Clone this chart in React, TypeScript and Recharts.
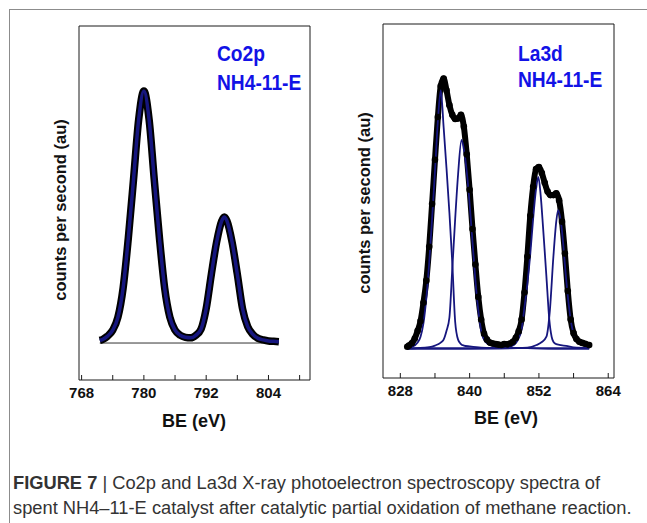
import { LineChart, Line, XAxis, YAxis } from 'recharts'

// Co2p spectrum (left panel), BE in eV, counts in arbitrary units
const coBE = [771.5, 772, 773, 774, 775, 776, 777, 778, 779, 780, 781, 782, 783, 784, 785, 786, 787, 788, 789, 790, 791, 792, 793, 794, 795, 795.5, 796, 797, 798, 799, 800, 801, 802, 803, 804, 805, 806]
const coCounts = [0.015, 0.02, 0.04, 0.075, 0.15, 0.32, 0.61, 0.95, 1.3, 1.465, 1.3, 0.95, 0.61, 0.32, 0.15, 0.075, 0.045, 0.033, 0.03, 0.045, 0.08, 0.2, 0.4, 0.585, 0.71, 0.733, 0.71, 0.585, 0.4, 0.2, 0.095, 0.05, 0.027, 0.018, 0.012, 0.01, 0.008]
const coBaseBE = [771.5, 806]
const coBase = [0, 0]
const coTicks = [768, 774, 780, 786, 792, 798, 804, 810]
const coLabels = [768, 780, 792, 804]

// La3d spectrum (right panel): measured envelope + 4 fitted components
const laBE = [829.2, 829.5, 830, 830.5, 831, 831.5, 832, 832.5, 833, 833.5, 834, 834.5, 835, 835.5, 836, 836.5, 837, 837.5, 838, 838.5, 839, 839.5, 840, 840.5, 841, 841.5, 842, 842.5, 843, 843.5, 844, 844.5, 845, 845.5, 846, 846.5, 847, 847.5, 848, 848.5, 849, 849.5, 850, 850.5, 851, 851.5, 852, 852.5, 853, 853.5, 854, 854.5, 855, 855.5, 856, 856.5, 857, 857.5, 858, 858.5, 859, 859.5, 860, 860.7]
const laCounts = [1.06, 1.1, 1.18, 1.34, 1.6, 1.93, 2.55, 3.3, 4.45, 5.9, 7.4, 8.85, 9.9, 10.15, 9.75, 9.25, 8.92, 8.78, 8.8, 8.92, 8.52, 7.58, 6.38, 5.05, 3.85, 2.75, 1.98, 1.5, 1.3, 1.2, 1.17, 1.15, 1.13, 1.12, 1.15, 1.14, 1.17, 1.23, 1.36, 1.58, 1.98, 2.9, 4.12, 5.5, 6.48, 7.08, 7.15, 6.95, 6.62, 6.32, 6.2, 6.2, 6.26, 6.02, 5.3, 4.22, 2.95, 1.98, 1.52, 1.32, 1.23, 1.19, 1.16, 1.12]

const fit1BE = [829.2, 830, 831, 831.5, 832, 832.5, 833, 833.5, 834, 834.5, 835, 835.5, 836, 836.5, 837, 837.5, 838, 838.5, 839, 840, 842, 845, 850, 855, 860.7]
const fit1 = [1.02, 1.05, 1.2, 1.4, 1.85, 2.7, 3.9, 5.4, 7.0, 8.7, 9.76, 8.5, 7.1, 5.6, 3.9, 1.9, 1.3, 1.15, 1.1, 1.07, 1.03, 1.02, 1.01, 1.0, 1.0]

const fit2BE = [829.2, 833, 834, 835, 835.5, 836, 836.5, 837, 837.5, 838, 838.6, 839, 839.5, 840, 840.5, 841, 841.5, 842, 842.5, 843, 844, 846, 850, 855, 860.7]
const fit2 = [1.0, 1.05, 1.1, 1.2, 1.3, 1.6, 2.05, 3.7, 5.4, 6.9, 8.07, 7.75, 7.0, 5.9, 4.6, 3.3, 2.3, 1.6, 1.3, 1.18, 1.1, 1.04, 1.01, 1.0, 1.0]

const fit3BE = [829.2, 840, 845, 846, 847, 848, 848.5, 849, 849.5, 850, 850.5, 851, 851.5, 851.9, 852.3, 852.7, 853, 853.3, 853.8, 854.2, 854.5, 855, 857, 858, 860.7]
const fit3 = [1.0, 1.0, 1.01, 1.02, 1.06, 1.18, 1.35, 1.65, 2.4, 3.2, 4.2, 5.4, 6.4, 6.82, 6.2, 5.15, 4.3, 3.43, 1.97, 1.4, 1.23, 1.15, 1.08, 1.04, 1.02]

const fit4BE = [829.2, 845, 850, 851.6, 852.5, 853.3, 853.9, 854.5, 855, 855.33, 855.8, 856.2, 856.6, 857.1, 857.6, 858.2, 859, 860.2, 860.7]
const fit4 = [1.0, 1.0, 1.03, 1.12, 1.22, 1.4, 2.3, 4.1, 5.3, 5.69, 5.3, 4.56, 3.6, 2.6, 1.85, 1.4, 1.22, 1.12, 1.1]

const laBaseBE = [829.2, 860.7]
const laBase = [1.0, 1.0]
const laTicks = [828, 834, 840, 846, 852, 858, 864]
const laLabels = [828, 840, 852, 864]
const laYTicks = [0, 1, 2, 3, 4, 5, 6, 7, 8, 9, 10, 11, 12]

const pts = (xs: number[], ys: number[]) => xs.map((be, i) => ({ be, cps: ys[i] }))

const FONT = '"Liberation Sans", Arial, Helvetica, sans-serif'
const NAVY = '#16167e'
const FRAME = '#1a1a1a'

const tickStyle = { fill: '#111', fontSize: 15, fontWeight: 700, fontFamily: FONT }

// axes drawn on all four sides so they make the plot frame (ticks point inward)
function axes(xDomain: [number, number], xTicks: number[], xLabels: number[], yDomain: [number, number], yTicks: number[]) {
  return [
    <XAxis
      key="xb"
      xAxisId="b"
      type="number"
      dataKey="be"
      domain={xDomain}
      ticks={xTicks}
      interval={0}
      allowDataOverflow
      height={1}
      tickSize={-5}
      tickMargin={12}
      stroke={FRAME}
      tick={tickStyle}
      tickFormatter={(v: number) => (xLabels.includes(v) ? String(v) : '')}
    />,
    <XAxis key="xt" xAxisId="t" orientation="top" type="number" dataKey="be" domain={xDomain} ticks={xTicks} interval={0} allowDataOverflow height={1} tickSize={-5} tick={false} stroke={FRAME} />,
    <YAxis key="yl" yAxisId="l" type="number" dataKey="cps" domain={yDomain} ticks={yTicks} interval={0} allowDataOverflow width={1} tickSize={-4} tick={false} stroke={FRAME} />,
    <YAxis key="yr" yAxisId="r" orientation="right" type="number" dataKey="cps" domain={yDomain} ticks={yTicks} interval={0} allowDataOverflow width={1} tickSize={-4} tick={false} stroke={FRAME} />,
  ]
}

const abs = (left: number, top: number) => ({ position: 'absolute' as const, left, top })

function Tag({ x, y, children }: { x: number; y: number; children: string }) {
  return (
    <div
      style={{
        ...abs(x, y),
        color: '#1212e6',
        fontSize: 20,
        fontWeight: 700,
        fontFamily: FONT,
        lineHeight: '20px',
        whiteSpace: 'nowrap',
        transform: 'scale(0.96, 1.1)',
        transformOrigin: 'left center',
      }}
    >
      {children}
    </div>
  )
}

function YTitle({ cx, cy }: { cx: number; cy: number }) {
  return (
    <div
      style={{
        ...abs(cx, cy),
        transform: 'translate(-50%, -50%) rotate(-90deg)',
        fontSize: 16.5,
        fontWeight: 700,
        fontFamily: FONT,
        color: '#111',
        whiteSpace: 'nowrap',
        lineHeight: '18px',
      }}
    >
      counts per second (au)
    </div>
  )
}

function XTitle({ cx, cy }: { cx: number; cy: number }) {
  return (
    <div style={{ ...abs(cx, cy), transform: 'translate(-50%, -50%)', fontSize: 18, fontWeight: 700, fontFamily: FONT, color: '#111', whiteSpace: 'nowrap', lineHeight: '20px' }}>
      BE (eV)
    </div>
  )
}

export default function App() {
  return (
    <div style={{ position: 'absolute', left: 0, top: 0, width: 647, height: 523, background: '#fff', overflow: 'hidden' }}>
      <div style={{ ...abs(9, 9), width: 700, height: 600, borderTop: '1px solid #8c8c8c', borderLeft: '1px solid #8c8c8c' }} />

      {/* left panel : Co2p */}
      <div style={abs(0, 0)}>
        <LineChart width={330} height={440} margin={{ top: 25, right: 19, bottom: 59, left: 78 }}>
          {axes([767.5, 812], coTicks, coLabels, [-0.215, 1.843], [0, 1])}
          <Line xAxisId="b" yAxisId="l" data={pts(coBaseBE, coBase)} dataKey="cps" stroke="#333" strokeWidth={1} dot={false} isAnimationActive={false} />
          <Line xAxisId="b" yAxisId="l" data={pts(coBE, coCounts)} dataKey="cps" type="monotone" stroke="#000" strokeWidth={7.5} dot={false} isAnimationActive={false} />
          <Line xAxisId="b" yAxisId="l" data={pts(coBE, coCounts)} dataKey="cps" type="monotone" stroke={NAVY} strokeWidth={3.5} dot={false} isAnimationActive={false} />
        </LineChart>
      </div>

      {/* right panel : La3d */}
      <div style={abs(330, 0)}>
        <LineChart width={317} height={440} margin={{ top: 23, right: 32, bottom: 61, left: 52 }}>
          {axes([825, 865], laTicks, laLabels, [0, 12], laYTicks)}
          <Line xAxisId="b" yAxisId="l" data={pts(laBaseBE, laBase)} dataKey="cps" stroke="#111" strokeWidth={1} dot={false} isAnimationActive={false} />
          <Line
            xAxisId="b"
            yAxisId="l"
            data={pts(laBE, laCounts)}
            dataKey="cps"
            type="monotone"
            stroke="#000"
            strokeWidth={6}
            dot={{ r: 3.3, fill: '#000', stroke: 'none' }}
            isAnimationActive={false}
          />
          <Line xAxisId="b" yAxisId="l" data={pts(fit1BE, fit1)} dataKey="cps" type="monotone" stroke={NAVY} strokeWidth={1.8} dot={false} isAnimationActive={false} />
          <Line xAxisId="b" yAxisId="l" data={pts(fit2BE, fit2)} dataKey="cps" type="monotone" stroke={NAVY} strokeWidth={1.8} dot={false} isAnimationActive={false} />
          <Line xAxisId="b" yAxisId="l" data={pts(fit3BE, fit3)} dataKey="cps" type="monotone" stroke={NAVY} strokeWidth={1.8} dot={false} isAnimationActive={false} />
          <Line xAxisId="b" yAxisId="l" data={pts(fit4BE, fit4)} dataKey="cps" type="monotone" stroke={NAVY} strokeWidth={1.8} dot={false} isAnimationActive={false} />
        </LineChart>
      </div>

      <Tag x={217} y={43}>Co2p</Tag>
      <Tag x={217} y={72}>NH4-11-E</Tag>
      <Tag x={518} y={43}>La3d</Tag>
      <Tag x={518} y={69}>NH4-11-E</Tag>

      <YTitle cx={60} cy={210} />
      <YTitle cx={364} cy={203} />
      <XTitle cx={194} cy={421} />
      <XTitle cx={506} cy={418} />

      <div style={{ ...abs(13, 470), width: 640, fontFamily: FONT, fontSize: 18.3, lineHeight: '25px', color: '#333' }}>
        <div style={{ whiteSpace: 'nowrap' }}>
          <b>FIGURE 7</b> | Co2p and La3d X-ray photoelectron spectroscopy spectra of
        </div>
        <div style={{ whiteSpace: 'nowrap' }}>spent NH4–11-E catalyst after catalytic partial oxidation of methane reaction.</div>
      </div>
    </div>
  )
}
